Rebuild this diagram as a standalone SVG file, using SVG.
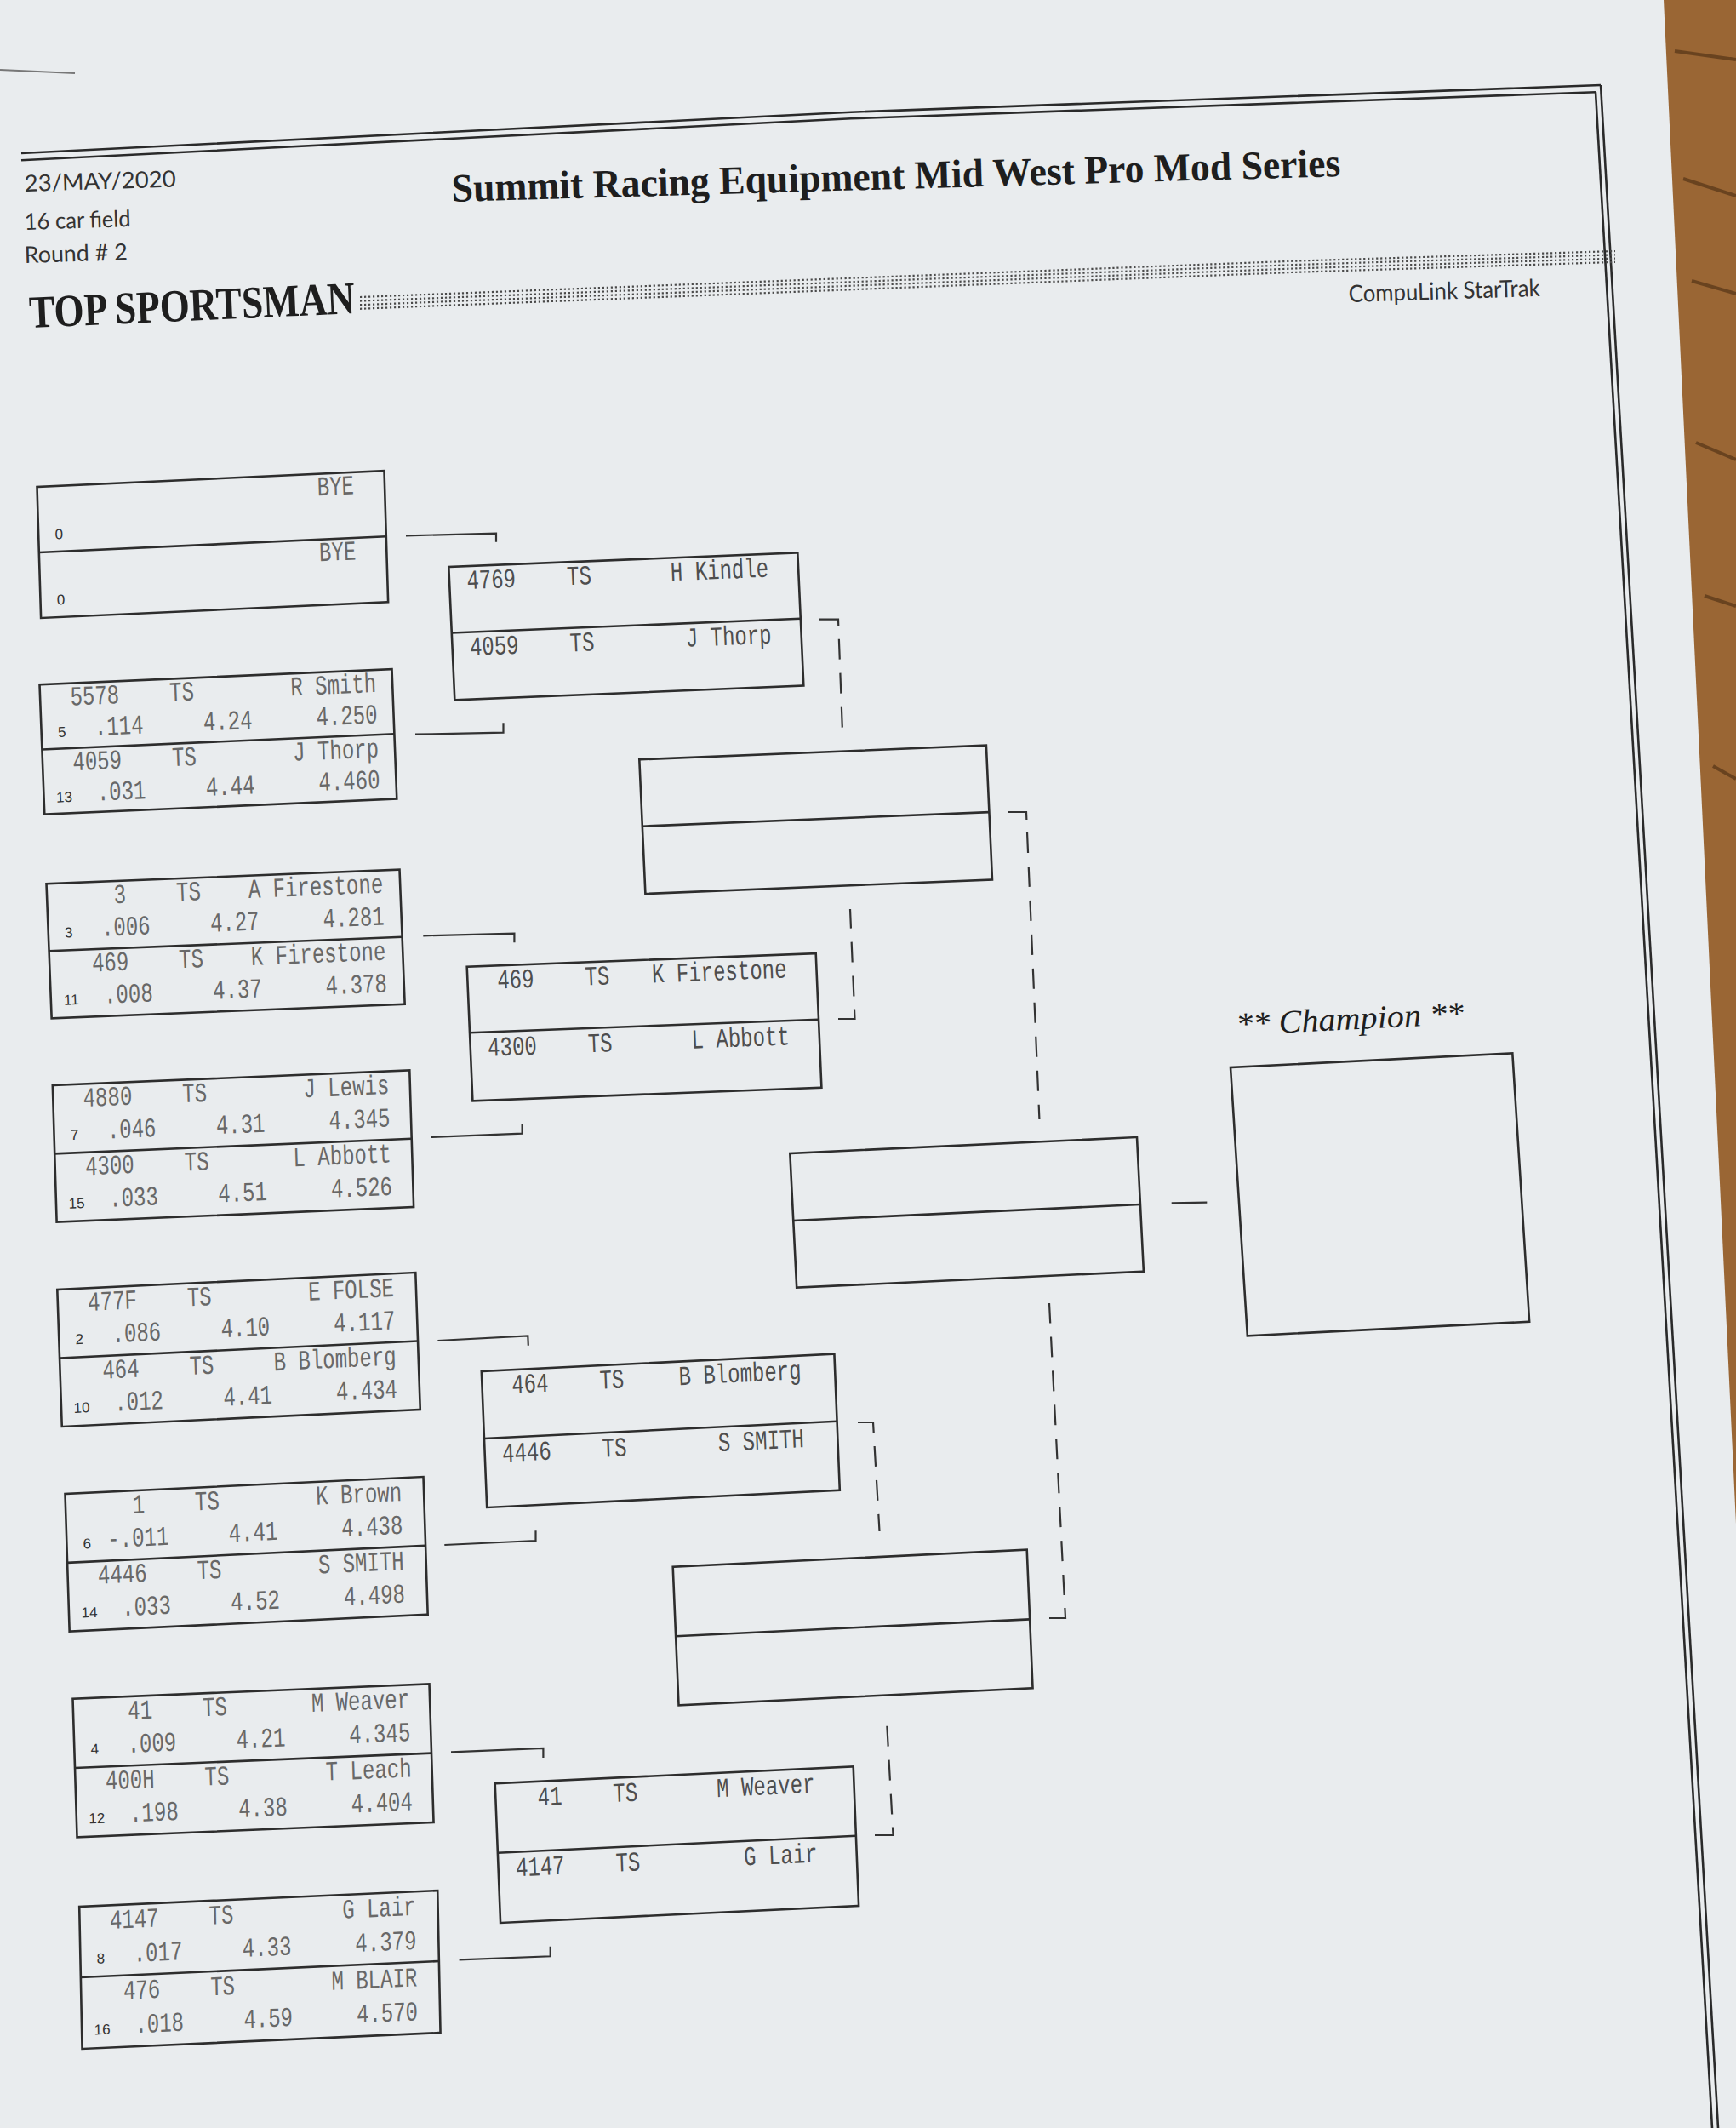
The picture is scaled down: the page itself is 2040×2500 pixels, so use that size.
<svg xmlns="http://www.w3.org/2000/svg" width="2040" height="2500" viewBox="0 0 2040 2500">
<defs>
<style>
.box{fill:none;stroke:#2d2d2d;stroke-width:2.6}
.rule{fill:none;stroke:#2a2a2a;stroke-width:2.6}
.dots{fill:none;stroke:#4a4a4a;stroke-width:2.2;stroke-dasharray:2.2 2.8}
.t{font-family:"Liberation Mono","DejaVu Sans Mono",monospace;font-size:32px;fill:#686868}
.t2{font-family:"Liberation Mono","DejaVu Sans Mono",monospace;font-size:32px;fill:#4e4e4e}
.e{text-anchor:end}
.seed{font-family:"Liberation Sans",Arial,sans-serif;font-size:17px;fill:#333;text-anchor:middle}
.br{fill:none;stroke:#333;stroke-width:2.2}
.dash{stroke-dasharray:31 15 24 16 24 16 24 16 24 16 24 16 24 16 24 16 24 16 24 16}
.hdr{font-family:Lato,"Open Sans","Liberation Sans",sans-serif;fill:#333}
.serif{font-family:"Liberation Serif","Times New Roman",serif;fill:#1e1e1e}
</style>
</defs>
<rect width="2040" height="2500" fill="#e9ecee"/>
<polygon points="1955,0 2040,0 2040,1790" fill="#9a6634"/>
<g stroke="#4a2c12" stroke-width="4" fill="none" opacity="0.6">
<path d="M1968,60 L2040,70"/><path d="M1978,210 L2040,230"/><path d="M1988,330 L2040,345"/><path d="M1993,520 L2040,540"/><path d="M2003,700 L2040,712"/><path d="M2013,900 L2040,915"/>
</g>
<line x1="0" y1="82" x2="88" y2="86" stroke="#777" stroke-width="2"/>

<g id="header">
<polyline class="rule" points="25,180 1000,131.7 1881,100"/>
<polyline class="rule" points="25,188.3 1000,139.3 1875,108.3"/>
<line class="rule" x1="1881" y1="100" x2="2019" y2="2500"/>
<line class="rule" x1="1875" y1="108.3" x2="2012" y2="2500"/>
<polyline class="dots" points="423,349 1520,306.7 1898,295"/>
<polyline class="dots" points="423,353.6 1520,311.1 1898,299.3"/>
<polyline class="dots" points="423,358.2 1520,315.5 1898,303.6"/>
<polyline class="dots" points="423,362.8 1520,319.9 1898,307.9"/>
<text class="hdr" x="29" y="225" font-size="27" textLength="178" lengthAdjust="spacingAndGlyphs" transform="rotate(-1.8 29 225)">23/MAY/2020</text>
<text class="hdr" x="29" y="270" font-size="27" textLength="125" lengthAdjust="spacingAndGlyphs" transform="rotate(-1.8 29 270)">16 car field</text>
<text class="hdr" x="29" y="309" font-size="27" textLength="121" lengthAdjust="spacingAndGlyphs" transform="rotate(-1.8 29 309)">Round # 2</text>
<text class="serif" x="531" y="237" font-size="47" font-weight="bold" textLength="1045" lengthAdjust="spacingAndGlyphs" transform="rotate(-1.64 531 237)">Summit Racing Equipment Mid West Pro Mod Series</text>
<text class="serif" x="35" y="385" font-size="54" font-weight="bold" textLength="383" lengthAdjust="spacingAndGlyphs" transform="rotate(-2.54 35 385)">TOP SPORTSMAN</text>
<text class="hdr" x="1585" y="355" font-size="28" textLength="225" lengthAdjust="spacingAndGlyphs" transform="rotate(-1.8 1585 355)">CompuLink StarTrak</text>
</g>

<g id="connectors">
<path class="br" d="M477,629.3 L583,626.7 L583,636.7"/>
<path class="br" d="M488,862.7 L591.5,860.7 L591.5,849.3"/>
<path class="br" d="M497.3,1099.3 L604.4,1096.7 L604.4,1107.3"/>
<path class="br" d="M506.5,1336 L613.6,1331.7 L613.6,1320.7"/>
<path class="br" d="M514.4,1575 L620.3,1569.3 L620.8,1580.7"/>
<path class="br" d="M522.3,1815 L629.5,1810 L629.5,1798.3"/>
<path class="br" d="M530,2058.3 L638.4,2054 L638.4,2065"/>
<path class="br" d="M539.6,2302.3 L646.7,2298.3 L646.7,2286.7"/>
<path class="br dash" d="M962,727.7 L985,727.7 L990,860"/>
<path class="br dash" d="M985,1197 L1004.5,1197 L999,1068"/>
<path class="br dash" d="M1008,1671 L1026,1671 L1033.5,1799"/>
<path class="br dash" d="M1028,2156 L1049.5,2156 L1042,2021.7"/>
<path class="br dash" d="M1184,954 L1206,954 L1221.4,1315"/>
<path class="br dash" d="M1233,1901 L1252,1901 L1233,1531"/>
<path class="br" d="M1376.7,1413.3 L1418.3,1412.7"/>
</g>

<g id="r1-m1" transform="matrix(1 -0.046 0.03 1 43.5 572)">
<rect class="box" width="408" height="154"/><line class="box" x1="0" y1="77" x2="408" y2="77"/>
<text class="seed" x="24" y="62.4">0</text><text class="seed" x="24" y="139.4">0</text>
<g class="t" transform="scale(0.75 1)"><text class="e" x="496" y="25.4">BYE</text><text class="e" x="496" y="102.4">BYE</text></g>
</g>

<g id="r1-m2" transform="matrix(1 -0.044 0.038 1 46.5 804.3)">
<rect class="box" width="414" height="152.4"/><line class="box" x1="0" y1="76.2" x2="414" y2="76.2"/>
<text class="seed" x="24" y="62.5">5</text><text class="seed" x="24" y="139">13</text>
<g class="t" transform="scale(0.75 1)">
<text class="e" x="124" y="26">5578</text><text x="202.7" y="26">TS</text><text class="e" x="526.7" y="26">R Smith</text>
<text class="e" x="160" y="62.5">.114</text><text class="e" x="330.7" y="62.5">4.24</text><text class="e" x="526.7" y="62.5">4.250</text>
<text class="e" x="124" y="102.5">4059</text><text x="202.7" y="102.5">TS</text><text class="e" x="526.7" y="102.5">J Thorp</text>
<text class="e" x="160" y="139">.031</text><text class="e" x="330.7" y="139">4.44</text><text class="e" x="526.7" y="139">4.460</text>
</g>
</g>

<g id="r1-m3" transform="matrix(1 -0.040 0.039 1 54.5 1038.3)">
<rect class="box" width="415" height="158"/><line class="box" x1="0" y1="79" x2="415" y2="79"/>
<text class="seed" x="24" y="64">3</text><text class="seed" x="24" y="143">11</text>
<g class="t" transform="scale(0.75 1)">
<text class="e" x="124" y="26.1">3</text><text x="202.7" y="26.1">TS</text><text class="e" x="526.7" y="26.1">A Firestone</text>
<text class="e" x="160" y="64">.006</text><text class="e" x="330.7" y="64">4.27</text><text class="e" x="526.7" y="64">4.281</text>
<text class="e" x="124" y="105.1">469</text><text x="202.7" y="105.1">TS</text><text class="e" x="526.7" y="105.1">K Firestone</text>
<text class="e" x="160" y="143">.008</text><text class="e" x="330.7" y="143">4.37</text><text class="e" x="526.7" y="143">4.378</text>
</g>
</g>

<g id="r1-m4" transform="matrix(1 -0.042 0.03 1 61.8 1275)">
<rect class="box" width="419.5" height="160.7"/><line class="box" x1="0" y1="80.35" x2="419.5" y2="80.35"/>
<text class="seed" x="24" y="65.1">7</text><text class="seed" x="24" y="145.4">15</text>
<g class="t" transform="scale(0.75 1)">
<text class="e" x="124" y="26.5">4880</text><text x="202.7" y="26.5">TS</text><text class="e" x="526.7" y="26.5">J Lewis</text>
<text class="e" x="160" y="65.1">.046</text><text class="e" x="330.7" y="65.1">4.31</text><text class="e" x="526.7" y="65.1">4.345</text>
<text class="e" x="124" y="106.9">4300</text><text x="202.7" y="106.9">TS</text><text class="e" x="526.7" y="106.9">L Abbott</text>
<text class="e" x="160" y="145.4">.033</text><text class="e" x="330.7" y="145.4">4.51</text><text class="e" x="526.7" y="145.4">4.526</text>
</g>
</g>

<g id="r1-m5" transform="matrix(1 -0.0475 0.034 1 67.3 1515)">
<rect class="box" width="421" height="161"/><line class="box" x1="0" y1="80.5" x2="421" y2="80.5"/>
<text class="seed" x="24" y="65.2">2</text><text class="seed" x="24" y="145.7">10</text>
<g class="t" transform="scale(0.75 1)">
<text class="e" x="124" y="26.6">477F</text><text x="202.7" y="26.6">TS</text><text class="e" x="526.7" y="26.6">E FOLSE</text>
<text class="e" x="160" y="65.2">.086</text><text class="e" x="330.7" y="65.2">4.10</text><text class="e" x="526.7" y="65.2">4.117</text>
<text class="e" x="124" y="107.1">464</text><text x="202.7" y="107.1">TS</text><text class="e" x="526.7" y="107.1">B Blomberg</text>
<text class="e" x="160" y="145.7">.012</text><text class="e" x="330.7" y="145.7">4.41</text><text class="e" x="526.7" y="145.7">4.434</text>
</g>
</g>

<g id="r1-m6" transform="matrix(1 -0.0475 0.032 1 76.5 1755)">
<rect class="box" width="421" height="161.7"/><line class="box" x1="0" y1="80.85" x2="421" y2="80.85"/>
<text class="seed" x="24" y="65.5">6</text><text class="seed" x="24" y="146.3">14</text>
<g class="t" transform="scale(0.75 1)">
<text class="e" x="124" y="26.7">1</text><text x="202.7" y="26.7">TS</text><text class="e" x="526.7" y="26.7">K Brown</text>
<text class="e" x="160" y="65.5">-.011</text><text class="e" x="330.7" y="65.5">4.41</text><text class="e" x="526.7" y="65.5">4.438</text>
<text class="e" x="124" y="107.5">4446</text><text x="202.7" y="107.5">TS</text><text class="e" x="526.7" y="107.5">S SMITH</text>
<text class="e" x="160" y="146.3">.033</text><text class="e" x="330.7" y="146.3">4.52</text><text class="e" x="526.7" y="146.3">4.498</text>
</g>
</g>

<g id="r1-m7" transform="matrix(1 -0.0415 0.031 1 85.5 1995.7)">
<rect class="box" width="419" height="162.6"/><line class="box" x1="0" y1="81.3" x2="419" y2="81.3"/>
<text class="seed" x="24" y="65.9">4</text><text class="seed" x="24" y="147.2">12</text>
<g class="t" transform="scale(0.75 1)">
<text class="e" x="124" y="26.8">41</text><text x="202.7" y="26.8">TS</text><text class="e" x="526.7" y="26.8">M Weaver</text>
<text class="e" x="160" y="65.9">.009</text><text class="e" x="330.7" y="65.9">4.21</text><text class="e" x="526.7" y="65.9">4.345</text>
<text class="e" x="124" y="108.1">400H</text><text x="202.7" y="108.1">TS</text><text class="e" x="526.7" y="108.1">T Leach</text>
<text class="e" x="160" y="147.2">.198</text><text class="e" x="330.7" y="147.2">4.38</text><text class="e" x="526.7" y="147.2">4.404</text>
</g>
</g>

<g id="r1-m8" transform="matrix(1 -0.045 0.02 1 93.2 2240)">
<rect class="box" width="421" height="167"/><line class="box" x1="0" y1="83" x2="421" y2="83"/>
<text class="seed" x="24" y="67.6">8</text><text class="seed" x="24" y="151.1">16</text>
<g class="t" transform="scale(0.75 1)">
<text class="e" x="124" y="27.6">4147</text><text x="202.7" y="27.6">TS</text><text class="e" x="526.7" y="27.6">G Lair</text>
<text class="e" x="160" y="67.6">.017</text><text class="e" x="330.7" y="67.6">4.33</text><text class="e" x="526.7" y="67.6">4.379</text>
<text class="e" x="124" y="111.1">476</text><text x="202.7" y="111.1">TS</text><text class="e" x="526.7" y="111.1">M BLAIR</text>
<text class="e" x="160" y="151.1">.018</text><text class="e" x="330.7" y="151.1">4.59</text><text class="e" x="526.7" y="151.1">4.570</text>
</g>
</g>

<g id="r2-a" transform="matrix(1 -0.0407 0.045 1 527.3 666)">
<rect class="box" width="410" height="156.3"/><line class="box" x1="0" y1="77.5" x2="410" y2="77.5"/>
<g class="t2" transform="scale(0.75 1)">
<text class="e" x="104" y="26.9">4769</text><text x="184" y="26.9">TS</text><text class="e" x="500" y="26.9">H Kindle</text>
<text class="e" x="104" y="105">4059</text><text x="184" y="105">TS</text><text class="e" x="500" y="105">J Thorp</text>
</g>
</g>

<g id="r2-b" transform="matrix(1 -0.038 0.0425 1 548.7 1135.7)">
<rect class="box" width="410" height="157.6"/><line class="box" x1="0" y1="77.6" x2="410" y2="77.6"/>
<g class="t2" transform="scale(0.75 1)">
<text class="e" x="104" y="27.1">469</text><text x="184" y="27.1">TS</text><text class="e" x="500" y="27.1">K Firestone</text>
<text class="e" x="104" y="105.9">4300</text><text x="184" y="105.9">TS</text><text class="e" x="500" y="105.9">L Abbott</text>
</g>
</g>

<g id="r2-c" transform="matrix(1 -0.049 0.04 1 565.8 1611)">
<rect class="box" width="414.6" height="160"/><line class="box" x1="0" y1="79" x2="414.6" y2="79"/>
<g class="t2" transform="scale(0.75 1)">
<text class="e" x="104" y="27.5">464</text><text x="184" y="27.5">TS</text><text class="e" x="500" y="27.5">B Blomberg</text>
<text class="e" x="104" y="107.5">4446</text><text x="184" y="107.5">TS</text><text class="e" x="500" y="107.5">S SMITH</text>
</g>
</g>

<g id="r2-d" transform="matrix(1 -0.0475 0.039 1 581.7 2095.3)">
<rect class="box" width="421" height="163.7"/><line class="box" x1="0" y1="81.4" x2="421" y2="81.4"/>
<g class="t2" transform="scale(0.75 1)">
<text class="e" x="104" y="28.2">41</text><text x="184" y="28.2">TS</text><text class="e" x="500" y="28.2">M Weaver</text>
<text class="e" x="104" y="110">4147</text><text x="184" y="110">TS</text><text class="e" x="500" y="110">G Lair</text>
</g>
</g>

<g id="r3-e" transform="matrix(1 -0.0407 0.045 1 751.3 892.3)">
<rect class="box" width="407.6" height="157.7"/><line class="box" x1="0" y1="78.4" x2="407.6" y2="78.4"/>
</g>
<g id="r3-f" transform="matrix(1 -0.048 0.042 1 790.7 1840.7)">
<rect class="box" width="416" height="162.6"/><line class="box" x1="0" y1="81.6" x2="416" y2="81.6"/>
</g>
<g id="final" transform="matrix(1 -0.0466 0.05 1 928.3 1355)">
<rect class="box" width="407.7" height="157.7"/><line class="box" x1="0" y1="79" x2="407.7" y2="79"/>
</g>
<g id="champion">
<text class="serif" x="1453" y="1216" font-size="38" font-style="italic" textLength="268" lengthAdjust="spacingAndGlyphs" transform="rotate(-2.86 1453 1216)">** Champion **</text>
<g transform="matrix(1 -0.05 0.063 1 1446 1254)"><rect class="box" width="331.3" height="315.3"/></g>
</g>
</svg>
